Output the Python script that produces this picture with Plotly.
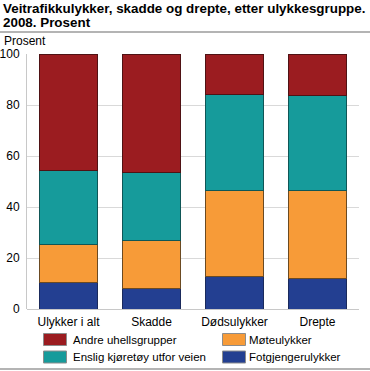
import plotly.graph_objects as go

categories = ["Ulykker i alt", "Skadde", "Dødsulykker", "Drepte"]
series_names = ["Fotgjengerulykker", "Møteulykker", "Enslig kjøretøy utfor veien", "Andre uhellsgrupper"]
fotgjenger = [10.4, 8.2, 12.9, 12.0]
mote = [14.8, 18.8, 33.4, 34.6]
enslig = [29.1, 26.7, 37.7, 37.3]
andre = [45.7, 46.3, 16.0, 16.1]
series_values = [fotgjenger, mote, enslig, andre]
colors = ["#233f91", "#f79b38", "#169b9b", "#9b1c20"]
edge_colors = ["#1a2a5c", "#6b4a22", "#0f5656", "#4f1214"]
y_ticks = [0, 20, 40, 60, 80, 100]

W, H = 370, 371
L, R, T, B = 27, 11, 54, 62
PW, PH = W - L - R, H - T - B

def px(x):
    return (x - L) / PW

def py(y):
    return (H - B - y) / PH

FONT = "Liberation Sans, Arial, sans-serif"

fig = go.Figure()
for name, vals, c, ec in zip(series_names, series_values, colors, edge_colors):
    fig.add_trace(go.Bar(
        x=categories, y=vals, name=name,
        marker=dict(color=c, line=dict(color=ec, width=1)),
        showlegend=False,
    ))

fig.update_layout(
    width=W, height=H, barmode="stack", bargap=0.3,
    margin=dict(l=L, r=R, t=T, b=B, pad=0, autoexpand=False),
    paper_bgcolor="white", plot_bgcolor="white",
    font=dict(family=FONT, size=12, color="#000"),
    xaxis=dict(showgrid=False, showline=False, ticks="outside", ticklen=2, tickcolor="white",
               tickfont=dict(size=12), automargin=False),
    yaxis=dict(range=[0, 100], tickvals=y_ticks, showgrid=True, gridcolor="#d9d9d9",
               gridwidth=1, showline=True, linecolor="#c8c8c8", linewidth=1,
               zeroline=True, zerolinecolor="#c8c8c8", zerolinewidth=1,
               ticks="outside", ticklen=4, tickcolor="white", tickfont=dict(size=12),
               automargin=False),
)

ann = []
ann.append(dict(text="<b>Veitrafikkulykker, skadde og drepte, etter ulykkesgruppe.</b>",
                x=px(1), y=py(9), xref="paper", yref="paper", xanchor="left", yanchor="middle",
                align="left", showarrow=False, font=dict(size=13.4, family=FONT)))
ann.append(dict(text="<b>2008. Prosent</b>",
                x=px(1), y=py(22.5), xref="paper", yref="paper", xanchor="left", yanchor="middle",
                align="left", showarrow=False, font=dict(size=13.4, family=FONT)))
ann.append(dict(text="Prosent", x=px(2), y=py(41.5), xref="paper", yref="paper",
                xanchor="left", yanchor="middle", showarrow=False, font=dict(size=12)))

shapes = []
shapes.append(dict(type="line", xref="paper", yref="paper", x0=px(0), x1=px(W),
                   y0=py(32), y1=py(32), line=dict(color="#b4b4b4", width=2)))
shapes.append(dict(type="line", xref="paper", yref="paper", x0=px(0), x1=px(W),
                   y0=py(369), y1=py(369), line=dict(color="#b4b4b4", width=2)))

legend_order = [3, 1, 2, 0]
legend_pos = [(43.5, 339.5), (222.5, 339.5), (43.5, 357), (222.5, 357)]
for idx, (lx, ly) in zip(legend_order, legend_pos):
    shapes.append(dict(type="rect", xref="paper", yref="paper",
                       x0=px(lx), x1=px(lx + 23), y0=py(ly - 6), y1=py(ly + 6),
                       fillcolor=colors[idx], line=dict(color="#8c8c8c", width=1)))
    ann.append(dict(text=series_names[idx], x=px(lx + 27 if lx < 100 else lx + 24), y=py(ly),
                    xref="paper", yref="paper", xanchor="left", yanchor="middle",
                    showarrow=False, font=dict(size=11.5)))

fig.update_layout(annotations=ann, shapes=shapes)
fig.write_html("out.html", config={"displayModeBar": False},
               post_script="document.body.style.margin='0';document.body.style.padding='0';")
